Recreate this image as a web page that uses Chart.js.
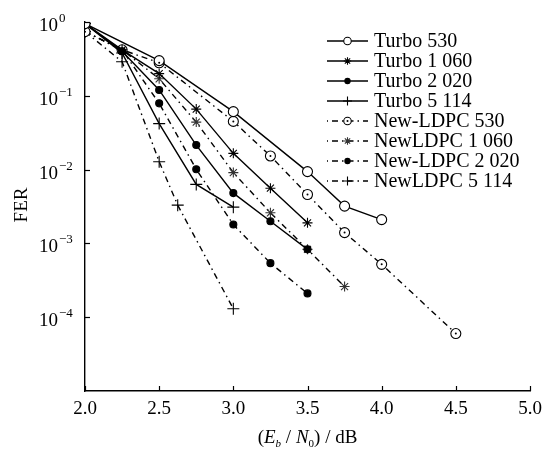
<!DOCTYPE html>
<html>
<head>
<meta charset="utf-8">
<script src="https://cdn.jsdelivr.net/npm/chart.js@4/dist/chart.umd.min.js"></script>
<style>
  html, body { margin: 0; padding: 0; background: #fff; }
  #wrap { width: 551px; height: 455px; }
</style>
</head>
<body>
<div id="wrap"><canvas id="ferChart" width="551" height="455"></canvas></div>
<script>
// 数据 (Eb/N0 in dB, FER)
const names = ['Turbo 530', 'Turbo 1 060', 'Turbo 2 020', 'Turbo 5 114',
               'New-LDPC 530', 'NewLDPC 1 060', 'New-LDPC 2 020', 'NewLDPC 5 114'];

const turbo530_x = [2.0, 2.5, 3.0, 3.5, 3.75, 4.0];
const turbo530_y = [0.95, 0.30, 0.061, 0.0094, 0.0032, 0.0021];

const turbo1060_x = [2.0, 2.25, 2.5, 2.75, 3.0, 3.25, 3.5];
const turbo1060_y = [0.95, 0.42, 0.20, 0.066, 0.0166, 0.0056, 0.0019];

const turbo2020_x = [2.0, 2.25, 2.5, 2.75, 3.0, 3.25, 3.5];
const turbo2020_y = [0.95, 0.40, 0.12, 0.0215, 0.0048, 0.0020, 0.00083];

const turbo5114_x = [2.0, 2.25, 2.5, 2.75, 3.0];
const turbo5114_y = [0.95, 0.38, 0.042, 0.0063, 0.0031];

const ldpc530_x = [2.0, 2.25, 2.5, 3.0, 3.25, 3.5, 3.75, 4.0, 4.5];
const ldpc530_y = [0.74, 0.42, 0.28, 0.045, 0.0153, 0.0046, 0.0014, 0.00052, 0.00006];

const ldpc1060_x = [2.0, 2.25, 2.5, 2.75, 3.0, 3.25, 3.5, 3.75];
const ldpc1060_y = [0.74, 0.42, 0.17, 0.044, 0.0091, 0.0026, 0.00083, 0.00026];

const ldpc2020_x = [2.0, 2.25, 2.5, 2.75, 3.0, 3.25, 3.5];
const ldpc2020_y = [0.74, 0.42, 0.079, 0.0101, 0.0018, 0.00054, 0.00021];

const ldpc5114_x = [2.0, 2.25, 2.5, 2.625, 3.0];
const ldpc5114_y = [0.74, 0.29, 0.0128, 0.0033, 0.00013];

const xTicks = [2.0, 2.5, 3.0, 3.5, 4.0, 4.5, 5.0];
const yExps = [0, -1, -2, -3, -4];

const serif = '"Liberation Serif", "DejaVu Serif", serif';

function pts(xs, ys) {
    return xs.map((x, i) => ({ x: x, y: ys[i] }));
}

const dashDot = [6, 4, 1.5, 4];

function series(label, xs, ys, dashed, style, radius, fill, color, centerDot) {
    return {
        label: label,
        data: pts(xs, ys),
        borderColor: '#000',
        borderWidth: 1.4,
        borderDash: dashed ? dashDot : [],
        pointStyle: style,
        pointRadius: radius,
        pointHoverRadius: radius,
        pointBorderColor: color || '#000',
        pointBackgroundColor: fill,
        pointBorderWidth: 1.1,
        centerDot: !!centerDot,
        tension: 0
    };
}

const datasets = [
    series(names[0], turbo530_x, turbo530_y, false, 'circle', 5, '#fff'),
    series(names[1], turbo1060_x, turbo1060_y, false, 'star', 5, '#000'),
    series(names[2], turbo2020_x, turbo2020_y, false, 'circle', 3.5, '#000'),
    series(names[3], turbo5114_x, turbo5114_y, false, 'cross', 6, '#000'),
    series(names[4], ldpc530_x, ldpc530_y, true, 'circle', 5, '#fff', '#000', true),
    series(names[5], ldpc1060_x, ldpc1060_y, true, 'star', 5, '#333', '#333'),
    series(names[6], ldpc2020_x, ldpc2020_y, true, 'circle', 3.5, '#000'),
    series(names[7], ldpc5114_x, ldpc5114_y, true, 'cross', 6, '#000')
];

function drawMark(ctx, ds, r, px, py) {
    ctx.fillStyle = ds.pointBackgroundColor;
    ctx.strokeStyle = ds.pointBorderColor;
    ctx.lineWidth = ds.pointBorderWidth;
    Chart.helpers.drawPoint(ctx, { pointStyle: ds.pointStyle, radius: r, borderWidth: ds.pointBorderWidth, rotation: 0 }, px, py);
    if (ds.centerDot) {
        ctx.fillStyle = '#000';
        ctx.beginPath(); ctx.arc(px, py, 1, 0, Math.PI * 2); ctx.fill();
    }
}

// 轴刻度、标签和图例
const decor = {
    id: 'decor',
    afterDatasetsDraw(chart) {
        const ctx = chart.ctx;
        ctx.save();
        chart.data.datasets.forEach((ds, i) => {
            if (!ds.centerDot) return;
            chart.getDatasetMeta(i).data.forEach(p => {
                ctx.fillStyle = '#000';
                ctx.beginPath(); ctx.arc(p.x, p.y, 1, 0, Math.PI * 2); ctx.fill();
            });
        });
        ctx.restore();
    },
    afterDraw(chart) {
        const ctx = chart.ctx;
        const a = chart.chartArea;
        const x = chart.scales.x, y = chart.scales.y;
        ctx.save();
        ctx.strokeStyle = '#000';
        ctx.lineWidth = 1.2;
        ctx.setLineDash([]);
        xTicks.forEach(v => {
            const px = Math.round(x.getPixelForValue(v)) + 0.5;
            ctx.beginPath(); ctx.moveTo(px, a.bottom); ctx.lineTo(px, a.bottom - 5); ctx.stroke();
        });
        ctx.fillStyle = '#000';
        yExps.forEach(e => {
            const py = Math.round(y.getPixelForValue(Math.pow(10, e))) + 0.5;
            ctx.beginPath(); ctx.moveTo(a.left, py); ctx.lineTo(a.left + 5, py); ctx.stroke();
            ctx.font = '19px ' + serif;
            ctx.textAlign = 'right';
            ctx.textBaseline = 'middle';
            ctx.fillText('10', 58, py + 4);
            ctx.font = '13px ' + serif;
            ctx.textAlign = 'left';
            ctx.fillText(e === 0 ? '0' : '\u2212' + (-e), 59, py - 4);
        });

        // y 轴标题
        ctx.save();
        ctx.translate(22, 205);
        ctx.rotate(-Math.PI / 2);
        ctx.font = '19px ' + serif;
        ctx.textAlign = 'center';
        ctx.textBaseline = 'middle';
        ctx.fillText('FER', 0, 0);
        ctx.restore();

        // x 轴标题 (Eb / N0) / dB
        const parts = [
            ['(', '19px', 0], ['E', 'italic 19px', 0], ['b', 'italic 11px', 4],
            [' / ', '19px', 0], ['N', 'italic 19px', 0], ['0', '11px', 4],
            [') / dB', '19px', 0]
        ];
        let total = 0;
        parts.forEach(p => { ctx.font = p[1] + ' ' + serif; total += ctx.measureText(p[0]).width; });
        let cx = (a.left + a.right) / 2 - total / 2;
        ctx.textAlign = 'left';
        ctx.textBaseline = 'alphabetic';
        parts.forEach(p => {
            ctx.font = p[1] + ' ' + serif;
            ctx.fillText(p[0], cx, 443 + p[2]);
            cx += ctx.measureText(p[0]).width;
        });

        // 图例
        chart.data.datasets.forEach((ds, i) => {
            const ly = 41 + i * 20;
            ctx.strokeStyle = '#000';
            ctx.lineWidth = 1.3;
            ctx.setLineDash(ds.borderDash);
            ctx.lineDashOffset = ds.borderDash.length ? -5 : 0;
            ctx.beginPath(); ctx.moveTo(327, ly); ctx.lineTo(368, ly); ctx.stroke();
            ctx.setLineDash([]);
            ctx.lineDashOffset = 0;
            drawMark(ctx, ds, ds.pointRadius * 0.75, 347.5, ly);
            ctx.fillStyle = '#000';
            ctx.font = '20px ' + serif;
            ctx.textAlign = 'left';
            ctx.textBaseline = 'middle';
            ctx.fillText(ds.label, 374, ly + 1);
        });
        ctx.restore();
    }
};

const ctx = document.getElementById('ferChart').getContext('2d');
new Chart(ctx, {
    type: 'line',
    data: { datasets: datasets },
    options: {
        responsive: false,
        animation: false,
        events: [],
        layout: { padding: { top: 22, right: 21, left: 0, bottom: 0 } },
        scales: {
            x: {
                type: 'linear',
                min: 2, max: 5,
                grid: { display: false, drawTicks: false },
                border: { display: true, color: '#000', width: 1.4 },
                ticks: {
                    stepSize: 0.5,
                    padding: 7,
                    color: '#000',
                    font: { family: serif, size: 19 },
                    maxRotation: 0,
                    callback: v => v.toFixed(1)
                },
                afterFit: s => { s.height = 64; }
            },
            y: {
                type: 'logarithmic',
                min: 1e-5, max: 1,
                grid: { display: false, drawTicks: false },
                border: { display: true, color: '#000', width: 1.4 },
                ticks: { display: false },
                afterFit: s => { s.width = 85; }
            }
        },
        plugins: {
            legend: { display: false },
            tooltip: { enabled: false }
        }
    },
    plugins: [decor]
});
</script>
</body>
</html>
